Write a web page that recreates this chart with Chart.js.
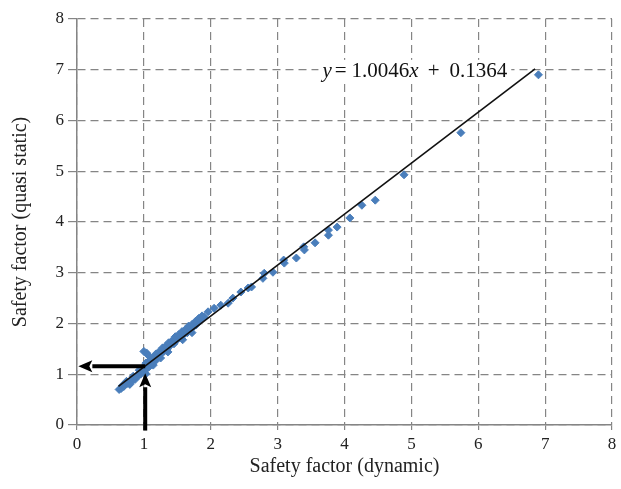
<!DOCTYPE html>
<html>
<head>
<meta charset="utf-8">
<script src="https://cdn.jsdelivr.net/npm/chart.js@4/dist/chart.umd.min.js"></script>
<style>
    html, body { margin: 0; padding: 0; background: #fff; }
    #wrap { width: 621px; height: 489px; }
</style>
</head>
<body>
<div id="wrap"><canvas id="sfChart" width="621" height="489"></canvas></div>
<script>
// safety factor, dynamic analysis (x) vs quasi static analysis (y)
const dynamicSf = [
    0.63, 0.66, 0.70, 0.72, 0.75, 0.78, 0.80, 0.82, 0.85, 0.87,
    0.90, 0.92, 0.95, 0.97, 1.00, 1.02, 1.03, 1.05, 1.07, 1.08,
    1.10, 1.12, 1.15, 1.17, 1.20, 1.22, 1.25, 1.27, 1.30, 1.32,
    1.35, 1.38, 1.40, 1.43, 1.45, 1.48, 1.50, 1.53, 1.55, 1.58,
    1.60, 1.63, 1.65, 1.68, 1.70, 1.73, 1.75, 1.78, 1.80, 1.83,
    1.86, 1.88, 1.00, 1.04, 1.06, 1.90, 1.96, 2.05, 2.15, 2.26,
    2.33, 2.45, 2.56, 2.61, 2.78, 2.80, 2.93, 3.09, 3.10, 3.28,
    3.39, 3.40, 3.56, 3.76, 3.76, 3.89, 4.08, 4.26, 4.46, 4.89,
    5.74, 6.90,
    0.68, 0.74, 0.79, 0.84, 0.88, 0.93, 0.98, 1.03, 1.09, 1.13,
    1.18, 1.23, 1.28, 1.33, 1.37, 1.42, 1.47, 1.52, 1.57, 1.62,
    1.67, 1.72, 1.77, 1.82, 1.87, 1.14, 1.25, 1.36, 1.58, 1.72
];
const quasiStaticSf = [
    0.70, 0.72, 0.76, 0.80, 0.82, 0.85, 0.83, 0.88, 0.92, 0.90,
    0.96, 0.98, 1.00, 1.05, 1.05, 1.10, 1.01, 1.12, 1.20, 1.15,
    1.25, 1.22, 1.30, 1.26, 1.35, 1.38, 1.40, 1.43, 1.45, 1.50,
    1.50, 1.55, 1.58, 1.62, 1.60, 1.66, 1.70, 1.72, 1.75, 1.76,
    1.80, 1.83, 1.82, 1.88, 1.90, 1.92, 1.95, 1.97, 2.00, 2.05,
    2.08, 2.10, 1.45, 1.42, 1.38, 2.13, 2.23, 2.30, 2.36, 2.40,
    2.50, 2.62, 2.70, 2.72, 2.89, 2.99, 3.01, 3.25, 3.19, 3.29,
    3.51, 3.45, 3.59, 3.84, 3.74, 3.90, 4.08, 4.33, 4.43, 4.93,
    5.76, 6.90,
    0.78, 0.86, 0.80, 0.96, 0.95, 1.08, 1.12, 1.22, 1.28, 1.32,
    1.40, 1.45, 1.52, 1.56, 1.62, 1.66, 1.74, 1.78, 1.84, 1.88,
    1.95, 1.98, 2.04, 2.10, 2.15, 1.18, 1.32, 1.44, 1.68, 1.82
];

// linear trend line as printed on the chart
const trendSlope = 1.0046;
const trendIntercept = 0.1364;
const trendRange = [0.62, 6.85];

const axisTicks = [0, 1, 2, 3, 4, 5, 6, 7, 8];

// reading arrows (data units): horizontal one points at the y axis, vertical one comes up from the x axis
const arrowH = [[1.02, 1.16], [0.02, 1.16]];
const arrowV = [[1.02, -0.11], [1.02, 1.02]];

const serif = "'Liberation Serif', 'DejaVu Serif', serif";
const gridColor = '#858585';

const points = dynamicSf.map((x, i) => ({ x: x, y: quasiStaticSf[i] }));
const trend = trendRange.map((x) => ({ x: x, y: trendSlope * x + trendIntercept }));

function drawArrow(ctx, x1, y1, x2, y2) {
    const ang = Math.atan2(y2 - y1, x2 - x1);
    const headLen = 14;
    const headHalf = 6;
    const bx = x2 - headLen * Math.cos(ang);
    const by = y2 - headLen * Math.sin(ang);

    ctx.beginPath();
    ctx.moveTo(x1, y1);
    ctx.lineTo(bx, by);
    ctx.stroke();

    ctx.beginPath();
    ctx.moveTo(x2, y2);
    ctx.lineTo(bx - headHalf * Math.sin(ang), by + headHalf * Math.cos(ang));
    ctx.lineTo(bx + 3 * Math.cos(ang), by + 3 * Math.sin(ang));
    ctx.lineTo(bx + headHalf * Math.sin(ang), by - headHalf * Math.cos(ang));
    ctx.closePath();
    ctx.fill();
}

const config = {
    type: 'scatter',
    data: {
        datasets: [
            {
                type: 'line',
                label: 'trend',
                data: trend,
                borderColor: '#111',
                borderWidth: 1.6,
                pointRadius: 0,
                fill: false,
                order: 0,
            },
            {
                label: 'SF',
                data: points,
                pointStyle: 'rectRot',
                pointRadius: 4,
                backgroundColor: '#4a7ebb',
                borderColor: '#4a7ebb',
                borderWidth: 1,
                order: 1,
            },
        ],
    },
    options: {
        responsive: false,
        animation: false,
        layout: {
            padding: { top: 19, right: 9, left: 0, bottom: 0 },
        },
        plugins: {
            legend: { display: false },
            tooltip: { enabled: false },
        },
        scales: {
            x: {
                type: 'linear',
                min: 0,
                max: 8,
                afterBuildTicks: (scale) => {
                    scale.ticks = axisTicks.map((v) => ({ value: v }));
                },
                afterFit: (scale) => {
                    scale.height = 64;
                },
                grid: {
                    color: gridColor,
                    lineWidth: 1.2,
                    tickBorderDash: [100, 0],
                    tickLength: 5,
                },
                border: { color: gridColor, width: 1.5, dash: [8, 5] },
                ticks: {
                    color: '#222',
                    padding: 4,
                    font: { family: serif, size: 17 },
                },
                title: {
                    display: true,
                    text: 'Safety factor (dynamic)',
                    color: '#222',
                    font: { family: serif, size: 20 },
                    padding: { top: 0, bottom: 10 },
                },
            },
            y: {
                type: 'linear',
                min: 0,
                max: 8,
                afterBuildTicks: (scale) => {
                    scale.ticks = axisTicks.map((v) => ({ value: v }));
                },
                afterFit: (scale) => {
                    scale.width = 77;
                },
                grid: {
                    color: gridColor,
                    lineWidth: 1.2,
                    tickBorderDash: [100, 0],
                    tickLength: 9,
                },
                border: { color: gridColor, width: 1.5, dash: [8, 5] },
                ticks: {
                    color: '#222',
                    padding: 4,
                    font: { family: serif, size: 17 },
                },
                title: {
                    display: true,
                    text: 'Safety factor (quasi static)',
                    color: '#222',
                    font: { family: serif, size: 20 },
                    padding: { top: 9, bottom: 0 },
                },
            },
        },
    },
    plugins: [
        {
            id: 'annotations',
            afterDatasetsDraw: (chart) => {
                const { ctx, scales } = chart;
                const px = (p) => [scales.x.getPixelForValue(p[0]), scales.y.getPixelForValue(p[1])];

                ctx.save();
                ctx.strokeStyle = '#000';
                ctx.fillStyle = '#000';
                ctx.lineWidth = 4;
                ctx.lineCap = 'butt';
                const h0 = px(arrowH[0]), h1 = px(arrowH[1]);
                drawArrow(ctx, h0[0], h0[1], h1[0], h1[1]);
                const v0 = px(arrowV[0]), v1 = px(arrowV[1]);
                drawArrow(ctx, v0[0], v0[1], v1[0], v1[1]);

                // trend line equation on a white box, pieces with their gap after
                const parts = [
                    ['y', 'italic ', 3],
                    ['=', '', 5],
                    ['1.0046', '', 0],
                    ['x', 'italic ', 9],
                    ['+', '', 10],
                    ['0.1364', '', 0],
                ];
                const x0 = scales.x.getPixelForValue(3.67);
                const y = scales.y.getPixelForValue(6.86);
                let total = 0;
                parts.forEach((p) => {
                    ctx.font = p[1] + '21px ' + serif;
                    total += ctx.measureText(p[0]).width + p[2];
                });
                ctx.fillStyle = '#fff';
                ctx.fillRect(x0 - 4, y - 17, total + 8, 23);

                let x = x0;
                ctx.fillStyle = '#111';
                ctx.textBaseline = 'alphabetic';
                parts.forEach((p) => {
                    ctx.font = p[1] + '21px ' + serif;
                    ctx.fillText(p[0], x, y);
                    x += ctx.measureText(p[0]).width + p[2];
                });
                ctx.restore();
            },
        },
    ],
};

new Chart(document.getElementById('sfChart'), config);
</script>
</body>
</html>
